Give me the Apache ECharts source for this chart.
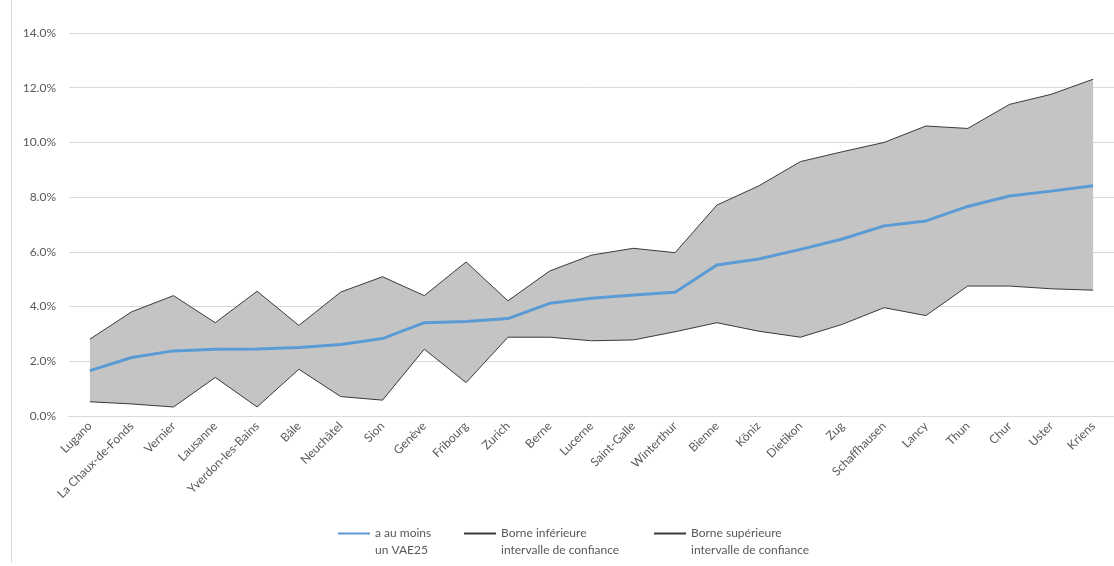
<!DOCTYPE html>
<html>
<head>
<meta charset="utf-8">
<script src="https://cdn.jsdelivr.net/npm/echarts@6/dist/echarts.min.js"></script>
<style>
html,body{margin:0;padding:0;background:#fff;}
#chart{width:1114px;height:566px;}
</style>
</head>
<body>
<div id="chart"></div>
<script>
const categories = ["Lugano","La Chaux-de-Fonds","Vernier","Lausanne","Yverdon-les-Bains","Bâle","Neuchâtel","Sion","Genève","Fribourg","Zurich","Berne","Lucerne","Saint-Galle","Winterthur","Bienne","Köniz","Dietikon","Zug","Schaffhausen","Lancy","Thun","Chur","Uster","Kriens"];
const meanValues = [1.66, 2.14, 2.38, 2.44, 2.45, 2.50, 2.61, 2.83, 3.41, 3.45, 3.56, 4.12, 4.30, 4.42, 4.52, 5.52, 5.74, 6.09, 6.47, 6.95, 7.13, 7.66, 8.04, 8.22, 8.42];
const upperValues = [2.81, 3.81, 4.40, 3.41, 4.56, 3.31, 4.53, 5.09, 4.40, 5.63, 4.21, 5.30, 5.88, 6.13, 5.97, 7.71, 8.41, 9.30, 9.66, 10.00, 10.60, 10.51, 11.39, 11.76, 12.31];
const lowerValues = [0.52, 0.44, 0.33, 1.41, 0.33, 1.71, 0.71, 0.58, 2.44, 1.22, 2.88, 2.88, 2.75, 2.78, 3.08, 3.41, 3.10, 2.88, 3.35, 3.96, 3.67, 4.75, 4.75, 4.65, 4.60];
const seriesNames = ["a au moins\nun VAE25", "Borne inférieure\nintervalle de confiance", "Borne supérieure\nintervalle de confiance"];

const bandValues = upperValues.map((u, i) => +(u - lowerValues[i]).toFixed(4));

const chart = echarts.init(document.getElementById('chart'), null, {renderer: 'canvas'});
const txt = '#595959';
const font = 'Lato';
chart.setOption({
  animation: false,
  backgroundColor: '#ffffff',
  textStyle: {fontFamily: font},
  graphic: [{
    type: 'line', shape: {x1: 11.5, y1: 0, x2: 11.5, y2: 563},
    style: {stroke: '#d9d9d9', lineWidth: 1}, silent: true
  }],
  grid: {left: 69, right: -10, top: 33, bottom: 150, containLabel: false},
  legend: {
    left: 337, top: 508, padding: 0, itemGap: 0,
    itemWidth: 32, itemHeight: 10,
    itemStyle: {color: 'rgba(0,0,0,0)', borderWidth: 0, borderColor: 'rgba(0,0,0,0)'},
    formatter: name => '\n' + name,
    data: [
      {name: seriesNames[0], textStyle: {width: 88}},
      {name: seriesNames[1], textStyle: {width: 152}},
      {name: seriesNames[2]}
    ],
    textStyle: {color: txt, fontSize: 12, fontFamily: font, lineHeight: 17}
  },
  xAxis: {
    type: 'category', data: categories, boundaryGap: true,
    axisLine: {show: true, lineStyle: {color: '#d9d9d9'}},
    axisTick: {show: false},
    axisLabel: {rotate: 45, color: txt, fontSize: 12, fontFamily: font, margin: 8, interval: 0}
  },
  yAxis: {
    type: 'value', min: 0, max: 14, interval: 2,
    axisLine: {show: false}, axisTick: {show: false},
    splitLine: {lineStyle: {color: '#d9d9d9', width: 1}},
    axisLabel: {color: txt, fontSize: 12, fontFamily: font, margin: 13, formatter: v => v.toFixed(1) + '%'}
  },
  series: [
    {
      name: seriesNames[1], type: 'line', data: lowerValues, stack: 'ci',
      symbol: 'none', lineStyle: {color: '#3a3a3a', width: 1}, itemStyle: {color: '#3a3a3a'}, z: 3
    },
    {
      name: 'band', type: 'line', data: bandValues, stack: 'ci',
      symbol: 'none', lineStyle: {opacity: 0, width: 0},
      areaStyle: {color: '#c4c4c4', opacity: 1}, z: 1
    },
    {
      name: seriesNames[2], type: 'line', data: upperValues,
      symbol: 'none', lineStyle: {color: '#3a3a3a', width: 1}, itemStyle: {color: '#3a3a3a'}, z: 3
    },
    {
      name: seriesNames[0], type: 'line', data: meanValues,
      symbol: 'none', lineStyle: {color: '#5b9bd5', width: 3}, itemStyle: {color: '#5b9bd5'}, z: 4
    }
  ]
});
</script>
</body>
</html>
